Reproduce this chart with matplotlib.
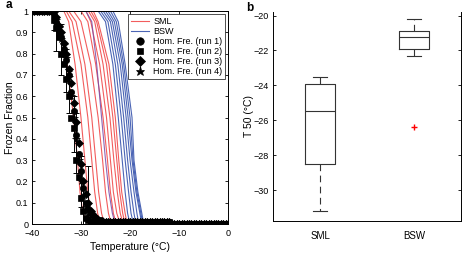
import numpy as np
import matplotlib.pyplot as plt

# ---- panel a: freezing curves ----
# fraction levels at which each curve's temperature was read
curve_frac = [1.0, 0.95, 0.75, 0.5, 0.3, 0.15, 0.05, 0.0]

sml_curves = [
    [-36.0, -34.5, -32.8, -31.5, -30.7, -30.2, -29.6, -28.5],
    [-33.5, -32.5, -31.2, -30.0, -29.2, -28.6, -28.0, -27.0],
    [-33.0, -31.8, -30.0, -28.6, -27.8, -27.2, -26.6, -26.0],
    [-32.5, -31.0, -29.2, -27.8, -27.0, -26.4, -25.8, -25.2],
    [-31.5, -30.0, -28.0, -26.5, -25.6, -25.0, -24.4, -23.8],
    [-30.0, -28.6, -27.0, -25.5, -24.6, -24.0, -23.4, -22.8],
    [-29.0, -28.0, -26.2, -24.8, -24.0, -23.4, -22.7, -22.0],
    [-28.5, -27.2, -25.5, -24.1, -23.3, -22.6, -22.0, -21.4],
    [-28.0, -26.8, -24.8, -23.5, -22.7, -22.1, -21.5, -21.0],
    [-27.5, -26.5, -24.3, -23.0, -22.3, -21.7, -21.0, -20.6],
]

bsw_curves = [
    [-29.0, -27.8, -26.8, -25.8, -25.0, -24.3, -23.6, -23.0],
    [-26.5, -25.0, -23.5, -22.4, -21.6, -21.0, -20.5, -20.0],
    [-26.0, -24.5, -23.0, -21.8, -21.0, -20.3, -19.8, -19.3],
    [-25.5, -24.0, -22.5, -21.3, -20.5, -19.8, -19.2, -18.8],
    [-25.0, -23.6, -22.0, -20.8, -20.0, -19.2, -18.6, -18.2],
    [-24.5, -23.2, -21.6, -20.4, -19.6, -18.8, -18.0, -17.6],
    [-24.0, -22.8, -21.3, -20.0, -19.4, -18.6, -17.8, -17.4],
    [-23.5, -22.4, -21.0, -19.6, -19.2, -18.4, -17.6, -17.2],
]

# homogeneous freezing runs, 0.5 degC steps from -40 to 0
hom_temp = np.arange(-40, 0.01, 0.5)
run1_mid = [1.0, 0.98, 0.95, 0.9, 0.88, 0.82, 0.77, 0.7, 0.62, 0.53, 0.42,
            0.33, 0.25, 0.17, 0.1, 0.07, 0.05, 0.04, 0.03, 0.02, 0.02]
run2_mid = [1.0, 0.96, 0.92, 0.88, 0.8, 0.75, 0.68, 0.6, 0.5, 0.45, 0.3,
            0.22, 0.12, 0.06, 0.03, 0.02, 0.01, 0.01, 0.01, 0.01, 0.01]
run3_mid = [1.0, 1.0, 0.97, 0.93, 0.9, 0.85, 0.8, 0.73, 0.66, 0.57, 0.48,
            0.38, 0.28, 0.2, 0.14, 0.1, 0.06, 0.04, 0.03, 0.02, 0.01]
run4_mid = [1.0, 0.99, 0.96, 0.92, 0.87, 0.84, 0.78, 0.69, 0.6, 0.5, 0.4,
            0.3, 0.2, 0.13, 0.08, 0.05, 0.04, 0.03, 0.02, 0.02, 0.01]
hom_runs = [
    [1.0] * 8 + run1_mid + [0.008] * 28 + [0.0] * 24,
    [1.0] * 8 + run2_mid + [0.008] * 28 + [0.0] * 24,
    [1.0] * 8 + run3_mid + [0.008] * 28 + [0.0] * 24,
    [1.0] * 8 + run4_mid + [0.008] * 28 + [0.0] * 24,
]
hom_markers = ['o', 's', 'D', '*']
hom_sizes = [4.5, 4, 4, 5.5]

err_temp = [-35.5, -35.0, -34.0, -33.0, -32.5, -31.5, -31.0, -30.0, -29.5, -28.5]
err_mean = [0.95, 0.88, 0.82, 0.72, 0.62, 0.47, 0.38, 0.2, 0.1, 0.13]
err_sd = [0.04, 0.07, 0.12, 0.1, 0.1, 0.13, 0.14, 0.12, 0.1, 0.14]

# ---- panel b: T50 box plot ----
groups = ['SML', 'BSW']
whisk_lo = [-31.2, -22.3]
q1 = [-28.5, -21.9]
medians = [-25.45, -21.25]
q3 = [-23.9, -20.9]
whisk_hi = [-23.5, -20.2]
outliers = [[], [-26.4]]

plt.rcParams['font.family'] = ['Liberation Sans', 'DejaVu Sans']
plt.rcParams['font.size'] = 6.5

fig = plt.figure(figsize=(4.62, 2.56), dpi=100)
ax1 = fig.add_axes([0.069, 0.125, 0.425, 0.832])
ax2 = fig.add_axes([0.591, 0.137, 0.407, 0.816])

red = '#f04040'
blue = '#2c4aa8'
purple = '#7a4aa8'

for i, c in enumerate(sml_curves):
    ax1.plot([-40] + c + [0], [1.0] + curve_frac + [0.0], color=red, lw=0.8,
             alpha=0.85, label='SML' if i == 0 else None)
for i, c in enumerate(bsw_curves):
    col = purple if i == 0 else blue
    ax1.plot([-40] + c + [0], [1.0] + curve_frac + [0.0], color=col, lw=0.8,
             alpha=0.85, label='BSW' if i == 1 else None)

ax1.errorbar(err_temp, err_mean, yerr=err_sd, fmt='none', ecolor='black',
             elinewidth=0.7, capsize=2, capthick=0.7)
for k, run in enumerate(hom_runs):
    ax1.plot(hom_temp, run, linestyle='none', marker=hom_markers[k],
             ms=hom_sizes[k], color='black', mec='black', mew=0.5,
             label=f'Hom. Fre. (run {k+1})')

ax1.set_xlim(-40, 0)
ax1.set_ylim(0, 1)
ax1.set_xticks([-40, -30, -20, -10, 0])
ax1.set_xticklabels(['\u221240', '\u221230', '\u221220', '\u221210', '0'])
ax1.set_yticks(np.arange(0, 1.01, 0.1))
ax1.set_yticklabels(['0', '0.1', '0.2', '0.3', '0.4', '0.5', '0.6', '0.7',
                     '0.8', '0.9', '1'])
ax1.tick_params(direction='in', top=True, right=True, length=2.5, width=0.6)
ax1.tick_params(axis='x', pad=3.5)
ax1.tick_params(axis='y', pad=2.5)
ax1.set_xlabel('Temperature (\u00b0C)', fontsize=7.5, labelpad=3)
ax1.set_ylabel('Frozen Fraction', fontsize=7.5)
ax1.yaxis.set_label_coords(-0.085, 0.5)
handles, labels = ax1.get_legend_handles_labels()
leg = ax1.legend(handles, labels, loc='upper right', fontsize=6.5, frameon=True,
                 fancybox=False, edgecolor='black', borderaxespad=0.35,
                 handlelength=2.0, handletextpad=0.5, borderpad=0.3,
                 labelspacing=0.12, markerscale=1.2)
leg.get_frame().set_linewidth(0.6)

# box plot from the read statistics
stats = []
for i, g in enumerate(groups):
    stats.append({'label': g, 'whislo': whisk_lo[i], 'q1': q1[i],
                  'med': medians[i], 'q3': q3[i], 'whishi': whisk_hi[i],
                  'fliers': outliers[i]})
ax2.bxp(stats, positions=[1, 2], widths=0.31,
        boxprops=dict(color='#333333', lw=0.8),
        medianprops=dict(color='#333333', lw=0.8),
        whiskerprops=dict(color='#333333', lw=0.8, linestyle=(0, (6, 4))),
        capprops=dict(color='#333333', lw=0.8),
        flierprops=dict(marker='+', markeredgecolor='red', ms=4, mew=1))
ax2.set_xlim(0.5, 2.5)
ax2.set_ylim(-31.75, -19.8)
ax2.set_yticks([-30, -28, -26, -24, -22, -20])
ax2.set_yticklabels(['\u221230', '\u221228', '\u221226', '\u221224',
                     '\u221222', '\u221220'])
ax2.spines['top'].set_visible(False)
ax2.tick_params(direction='in', right=True, length=2.5, width=0.6, pad=3)
ax2.tick_params(axis='x', length=0, pad=7, labelsize=7)
ax2.set_ylabel('T 50 (\u00b0C)', fontsize=7.5)
ax2.yaxis.set_label_coords(-0.1, 0.5)

for ax in (ax1, ax2):
    for s in ax.spines.values():
        s.set_linewidth(0.7)

fig.text(0.012, 0.98, 'a', fontsize=8.5, fontweight='bold', va='center')
fig.text(0.533, 0.97, 'b', fontsize=8.5, fontweight='bold', va='center')

fig.savefig('out.png', dpi=100)
